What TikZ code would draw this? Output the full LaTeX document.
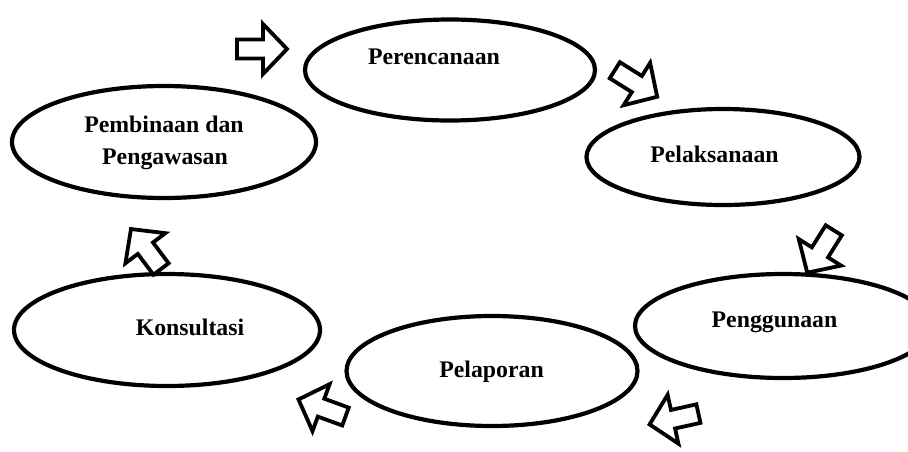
\documentclass[tikz,border=0pt]{standalone}
\usepackage{fontspec}
\setmainfont{Liberation Serif}
\usetikzlibrary{shapes.geometric}
\tikzset{
  stage/.style={ellipse, draw, line width=4.2pt, inner sep=0pt},
  stagelabel/.style={font=\fontsize{23.8}{32}\selectfont\bfseries, inner sep=0pt, anchor=base},
  flow/.pic={\draw[line width=3.8pt, miter limit=10, fill=white]
    (-25,-9.5) -- (1,-9.5) -- (1,-25) -- (25,0) -- (1,25) -- (1,9.5) -- (-25,9.5) -- cycle;}
}
\begin{document}
\begin{tikzpicture}[x=1pt,y=-1pt]
\useasboundingbox (0,0) rectangle (908,451);
\clip (0,0) rectangle (908,451);

% the six stages of the cycle
\node[stage, minimum width=290pt, minimum height=101pt] (perencanaan) at (450,70) {};
\node[stage, minimum width=304pt, minimum height=112pt] (pembinaan) at (164,142) {};
\node[stage, minimum width=273pt, minimum height=96pt] (pelaksanaan) at (723,157) {};
\node[stage, minimum width=296pt, minimum height=104pt] (penggunaan) at (783,326) {};
\node[stage, minimum width=291pt, minimum height=110pt] (pelaporan) at (492,371) {};
\node[stage, minimum width=306pt, minimum height=112pt] (konsultasi) at (167,330) {};

% stage names
\node[stagelabel] (tPerencanaan) at (434,64) {Perencanaan};
\node[stagelabel] (tPembinaan) at (164,132) {Pembinaan dan};
\node[stagelabel] (tPengawasan) at (165,164) {Pengawasan};
\node[stagelabel] (tPelaksanaan) at (714.5,162) {Pelaksanaan};
\node[stagelabel] (tPenggunaan) at (774.5,327) {Penggunaan};
\node[stagelabel] (tPelaporan) at (491.5,377) {Pelaporan};
\node[stagelabel] (tKonsultasi) at (190,335) {Konsultasi};

% hollow block arrows showing the direction of the cycle
\pic (arrA) at (262,49) {flow};
\pic[rotate=-32] (arrB) at (636,83.5) {flow};
\pic[rotate=-122] (arrC) at (820.5,251.5) {flow};
\pic[rotate=-167.5] (arrD) at (674,419) {flow};
\pic[rotate=160] (arrE) at (322,408) {flow};
\pic[rotate=127] (arrF) at (146,249) {flow};
\end{tikzpicture}
\end{document}
